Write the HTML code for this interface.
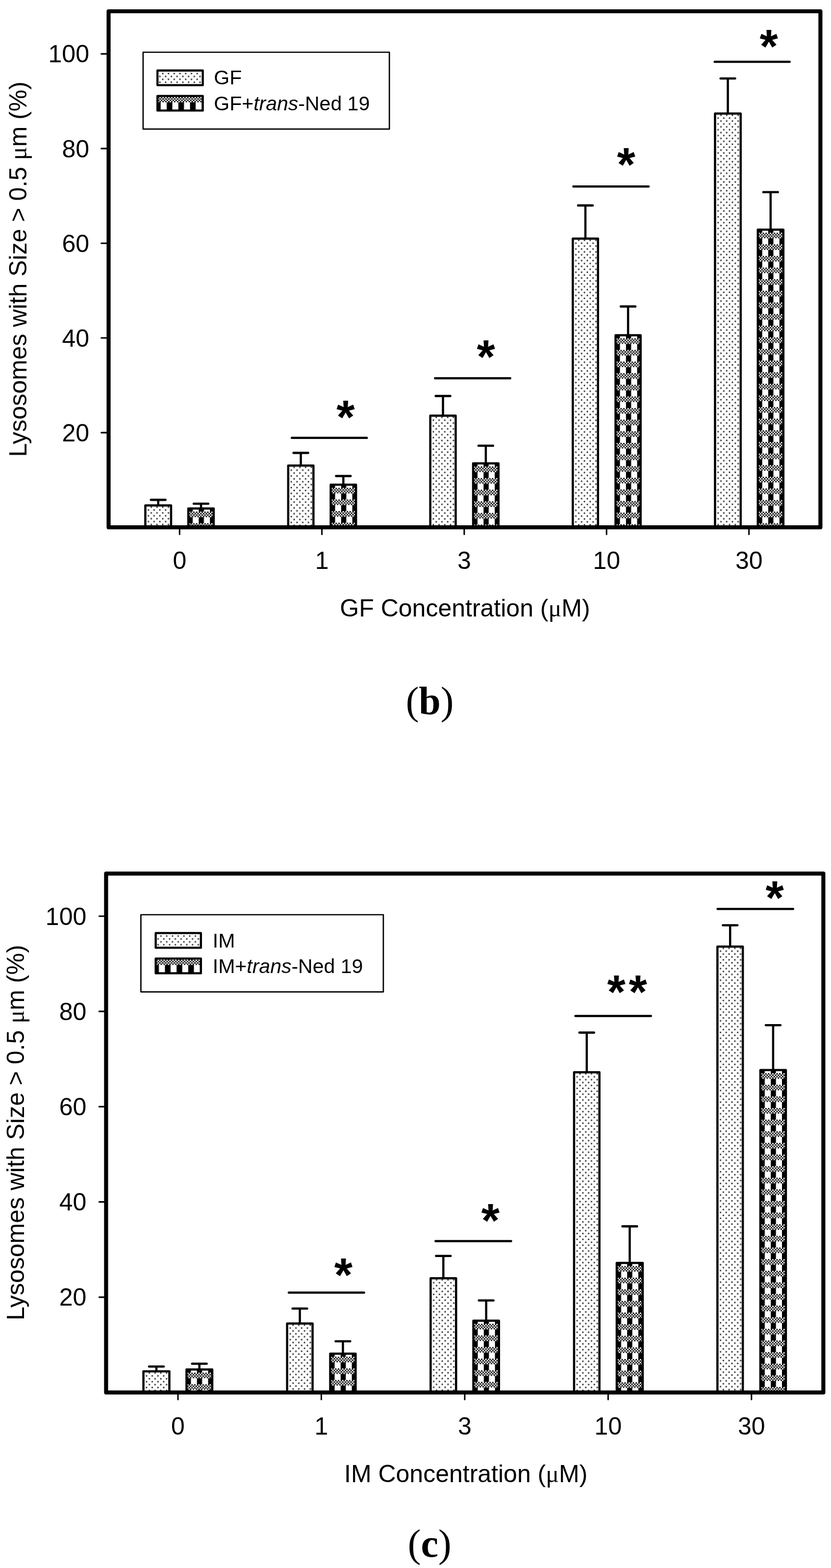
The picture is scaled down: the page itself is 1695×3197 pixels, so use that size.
<!DOCTYPE html>
<html><head><meta charset="utf-8"><title>Lysosome size charts</title>
<style>
html,body{margin:0;padding:0;background:#fff;}
body{width:1695px;height:3197px;overflow:hidden;}
svg{display:block;}
.t{font-family:"Liberation Sans", Arial, sans-serif;font-size:50px;fill:#000;}
.lg{font-family:"Liberation Sans", Arial, sans-serif;font-size:41px;fill:#000;}
.ast{font-family:"Liberation Sans", Arial, sans-serif;font-weight:bold;font-size:96px;fill:#000;}
.mu{font-family:"Liberation Serif", "Times New Roman", serif;}
.pn{font-family:"Liberation Serif", "Times New Roman", serif;font-size:80px;fill:#000;}
</style></head><body>
<svg width="1695" height="3197" viewBox="0 0 1695 3197">
<defs><pattern id="p0" patternUnits="userSpaceOnUse" width="11.7" height="11.84" x="305.62" y="1030.94"><circle cx="2.92" cy="2.96" r="1.65" fill="#2a2a2a"/><circle cx="8.77" cy="8.88" r="1.65" fill="#2a2a2a"/></pattern>
<pattern id="p1" patternUnits="userSpaceOnUse" width="22.8" height="23.7" x="382.6" y="1043"><rect x="0" y="0" width="2.85" height="2.85"/><rect x="5.7" y="0" width="2.85" height="2.85"/><rect x="11.4" y="0" width="2.85" height="2.85"/><rect x="17.1" y="0" width="2.85" height="2.85"/><rect x="2.85" y="2.85" width="2.85" height="2.85"/><rect x="8.55" y="2.85" width="2.85" height="2.85"/><rect x="14.25" y="2.85" width="2.85" height="2.85"/><rect x="19.95" y="2.85" width="2.85" height="2.85"/><rect x="0" y="5.7" width="2.85" height="2.85"/><rect x="5.7" y="5.7" width="2.85" height="2.85"/><rect x="11.4" y="5.7" width="2.85" height="2.85"/><rect x="17.1" y="5.7" width="2.85" height="2.85"/><rect x="2.85" y="8.55" width="2.85" height="2.85"/><rect x="8.55" y="8.55" width="2.85" height="2.85"/><rect x="14.25" y="8.55" width="2.85" height="2.85"/><rect x="19.95" y="8.55" width="2.85" height="2.85"/><rect x="0" y="11.4" width="10.5" height="12.3"/></pattern>
<pattern id="p2" patternUnits="userSpaceOnUse" width="11.7" height="11.84" x="597.03" y="949.74"><circle cx="2.92" cy="2.96" r="1.65" fill="#2a2a2a"/><circle cx="8.77" cy="8.88" r="1.65" fill="#2a2a2a"/></pattern>
<pattern id="p3" patternUnits="userSpaceOnUse" width="22.8" height="23.7" x="673" y="994.6"><rect x="0" y="0" width="2.85" height="2.85"/><rect x="5.7" y="0" width="2.85" height="2.85"/><rect x="11.4" y="0" width="2.85" height="2.85"/><rect x="17.1" y="0" width="2.85" height="2.85"/><rect x="2.85" y="2.85" width="2.85" height="2.85"/><rect x="8.55" y="2.85" width="2.85" height="2.85"/><rect x="14.25" y="2.85" width="2.85" height="2.85"/><rect x="19.95" y="2.85" width="2.85" height="2.85"/><rect x="0" y="5.7" width="2.85" height="2.85"/><rect x="5.7" y="5.7" width="2.85" height="2.85"/><rect x="11.4" y="5.7" width="2.85" height="2.85"/><rect x="17.1" y="5.7" width="2.85" height="2.85"/><rect x="2.85" y="8.55" width="2.85" height="2.85"/><rect x="8.55" y="8.55" width="2.85" height="2.85"/><rect x="14.25" y="8.55" width="2.85" height="2.85"/><rect x="19.95" y="8.55" width="2.85" height="2.85"/><rect x="0" y="11.4" width="10.5" height="12.3"/></pattern>
<pattern id="p4" patternUnits="userSpaceOnUse" width="11.7" height="11.84" x="886.83" y="847.84"><circle cx="2.92" cy="2.96" r="1.65" fill="#2a2a2a"/><circle cx="8.77" cy="8.88" r="1.65" fill="#2a2a2a"/></pattern>
<pattern id="p5" patternUnits="userSpaceOnUse" width="22.8" height="23.7" x="963.5" y="951"><rect x="0" y="0" width="2.85" height="2.85"/><rect x="5.7" y="0" width="2.85" height="2.85"/><rect x="11.4" y="0" width="2.85" height="2.85"/><rect x="17.1" y="0" width="2.85" height="2.85"/><rect x="2.85" y="2.85" width="2.85" height="2.85"/><rect x="8.55" y="2.85" width="2.85" height="2.85"/><rect x="14.25" y="2.85" width="2.85" height="2.85"/><rect x="19.95" y="2.85" width="2.85" height="2.85"/><rect x="0" y="5.7" width="2.85" height="2.85"/><rect x="5.7" y="5.7" width="2.85" height="2.85"/><rect x="11.4" y="5.7" width="2.85" height="2.85"/><rect x="17.1" y="5.7" width="2.85" height="2.85"/><rect x="2.85" y="8.55" width="2.85" height="2.85"/><rect x="8.55" y="8.55" width="2.85" height="2.85"/><rect x="14.25" y="8.55" width="2.85" height="2.85"/><rect x="19.95" y="8.55" width="2.85" height="2.85"/><rect x="0" y="11.4" width="10.5" height="12.3"/></pattern>
<pattern id="p6" patternUnits="userSpaceOnUse" width="11.7" height="11.84" x="1177.52" y="486.94"><circle cx="2.92" cy="2.96" r="1.65" fill="#2a2a2a"/><circle cx="8.77" cy="8.88" r="1.65" fill="#2a2a2a"/></pattern>
<pattern id="p7" patternUnits="userSpaceOnUse" width="22.8" height="23.7" x="1254" y="689.7"><rect x="0" y="0" width="2.85" height="2.85"/><rect x="5.7" y="0" width="2.85" height="2.85"/><rect x="11.4" y="0" width="2.85" height="2.85"/><rect x="17.1" y="0" width="2.85" height="2.85"/><rect x="2.85" y="2.85" width="2.85" height="2.85"/><rect x="8.55" y="2.85" width="2.85" height="2.85"/><rect x="14.25" y="2.85" width="2.85" height="2.85"/><rect x="19.95" y="2.85" width="2.85" height="2.85"/><rect x="0" y="5.7" width="2.85" height="2.85"/><rect x="5.7" y="5.7" width="2.85" height="2.85"/><rect x="11.4" y="5.7" width="2.85" height="2.85"/><rect x="17.1" y="5.7" width="2.85" height="2.85"/><rect x="2.85" y="8.55" width="2.85" height="2.85"/><rect x="8.55" y="8.55" width="2.85" height="2.85"/><rect x="14.25" y="8.55" width="2.85" height="2.85"/><rect x="19.95" y="8.55" width="2.85" height="2.85"/><rect x="0" y="11.4" width="10.5" height="12.3"/></pattern>
<pattern id="p8" patternUnits="userSpaceOnUse" width="11.7" height="11.84" x="1467.62" y="231.94"><circle cx="2.92" cy="2.96" r="1.65" fill="#2a2a2a"/><circle cx="8.77" cy="8.88" r="1.65" fill="#2a2a2a"/></pattern>
<pattern id="p9" patternUnits="userSpaceOnUse" width="22.8" height="23.7" x="1544.2" y="474.4"><rect x="0" y="0" width="2.85" height="2.85"/><rect x="5.7" y="0" width="2.85" height="2.85"/><rect x="11.4" y="0" width="2.85" height="2.85"/><rect x="17.1" y="0" width="2.85" height="2.85"/><rect x="2.85" y="2.85" width="2.85" height="2.85"/><rect x="8.55" y="2.85" width="2.85" height="2.85"/><rect x="14.25" y="2.85" width="2.85" height="2.85"/><rect x="19.95" y="2.85" width="2.85" height="2.85"/><rect x="0" y="5.7" width="2.85" height="2.85"/><rect x="5.7" y="5.7" width="2.85" height="2.85"/><rect x="11.4" y="5.7" width="2.85" height="2.85"/><rect x="17.1" y="5.7" width="2.85" height="2.85"/><rect x="2.85" y="8.55" width="2.85" height="2.85"/><rect x="8.55" y="8.55" width="2.85" height="2.85"/><rect x="14.25" y="8.55" width="2.85" height="2.85"/><rect x="19.95" y="8.55" width="2.85" height="2.85"/><rect x="0" y="11.4" width="10.5" height="12.3"/></pattern>
<pattern id="p10" patternUnits="userSpaceOnUse" width="11.7" height="11.84" x="329.07" y="146.94"><circle cx="2.92" cy="2.96" r="1.65" fill="#2a2a2a"/><circle cx="8.77" cy="8.88" r="1.65" fill="#2a2a2a"/></pattern>
<pattern id="p11" patternUnits="userSpaceOnUse" width="23.8" height="40" x="316.2" y="197.8"><rect x="0" y="0" width="2.98" height="2.67"/><rect x="5.95" y="0" width="2.98" height="2.67"/><rect x="11.9" y="0" width="2.98" height="2.67"/><rect x="17.85" y="0" width="2.98" height="2.67"/><rect x="2.98" y="2.67" width="2.98" height="2.67"/><rect x="8.93" y="2.67" width="2.98" height="2.67"/><rect x="14.88" y="2.67" width="2.98" height="2.67"/><rect x="20.82" y="2.67" width="2.98" height="2.67"/><rect x="0" y="5.35" width="2.98" height="2.67"/><rect x="5.95" y="5.35" width="2.98" height="2.67"/><rect x="11.9" y="5.35" width="2.98" height="2.67"/><rect x="17.85" y="5.35" width="2.98" height="2.67"/><rect x="2.98" y="8.02" width="2.98" height="2.67"/><rect x="8.93" y="8.02" width="2.98" height="2.67"/><rect x="14.88" y="8.02" width="2.98" height="2.67"/><rect x="20.82" y="8.02" width="2.98" height="2.67"/><rect x="0" y="10.7" width="11.5" height="29.3"/></pattern>
<pattern id="p12" patternUnits="userSpaceOnUse" width="11.7" height="11.84" x="301.73" y="2796.44"><circle cx="2.92" cy="2.96" r="1.65" fill="#2a2a2a"/><circle cx="8.77" cy="8.88" r="1.65" fill="#2a2a2a"/></pattern>
<pattern id="p13" patternUnits="userSpaceOnUse" width="22.8" height="23.7" x="378.9" y="2798.6"><rect x="0" y="0" width="2.85" height="2.85"/><rect x="5.7" y="0" width="2.85" height="2.85"/><rect x="11.4" y="0" width="2.85" height="2.85"/><rect x="17.1" y="0" width="2.85" height="2.85"/><rect x="2.85" y="2.85" width="2.85" height="2.85"/><rect x="8.55" y="2.85" width="2.85" height="2.85"/><rect x="14.25" y="2.85" width="2.85" height="2.85"/><rect x="19.95" y="2.85" width="2.85" height="2.85"/><rect x="0" y="5.7" width="2.85" height="2.85"/><rect x="5.7" y="5.7" width="2.85" height="2.85"/><rect x="11.4" y="5.7" width="2.85" height="2.85"/><rect x="17.1" y="5.7" width="2.85" height="2.85"/><rect x="2.85" y="8.55" width="2.85" height="2.85"/><rect x="8.55" y="8.55" width="2.85" height="2.85"/><rect x="14.25" y="8.55" width="2.85" height="2.85"/><rect x="19.95" y="8.55" width="2.85" height="2.85"/><rect x="0" y="11.4" width="10.5" height="12.3"/></pattern>
<pattern id="p14" patternUnits="userSpaceOnUse" width="11.7" height="11.84" x="594.83" y="2698.84"><circle cx="2.92" cy="2.96" r="1.65" fill="#2a2a2a"/><circle cx="8.77" cy="8.88" r="1.65" fill="#2a2a2a"/></pattern>
<pattern id="p15" patternUnits="userSpaceOnUse" width="22.8" height="23.7" x="672" y="2766.2"><rect x="0" y="0" width="2.85" height="2.85"/><rect x="5.7" y="0" width="2.85" height="2.85"/><rect x="11.4" y="0" width="2.85" height="2.85"/><rect x="17.1" y="0" width="2.85" height="2.85"/><rect x="2.85" y="2.85" width="2.85" height="2.85"/><rect x="8.55" y="2.85" width="2.85" height="2.85"/><rect x="14.25" y="2.85" width="2.85" height="2.85"/><rect x="19.95" y="2.85" width="2.85" height="2.85"/><rect x="0" y="5.7" width="2.85" height="2.85"/><rect x="5.7" y="5.7" width="2.85" height="2.85"/><rect x="11.4" y="5.7" width="2.85" height="2.85"/><rect x="17.1" y="5.7" width="2.85" height="2.85"/><rect x="2.85" y="8.55" width="2.85" height="2.85"/><rect x="8.55" y="8.55" width="2.85" height="2.85"/><rect x="14.25" y="8.55" width="2.85" height="2.85"/><rect x="19.95" y="8.55" width="2.85" height="2.85"/><rect x="0" y="11.4" width="10.5" height="12.3"/></pattern>
<pattern id="p16" patternUnits="userSpaceOnUse" width="11.7" height="11.84" x="887.53" y="2606.54"><circle cx="2.92" cy="2.96" r="1.65" fill="#2a2a2a"/><circle cx="8.77" cy="8.88" r="1.65" fill="#2a2a2a"/></pattern>
<pattern id="p17" patternUnits="userSpaceOnUse" width="22.8" height="23.7" x="964" y="2699"><rect x="0" y="0" width="2.85" height="2.85"/><rect x="5.7" y="0" width="2.85" height="2.85"/><rect x="11.4" y="0" width="2.85" height="2.85"/><rect x="17.1" y="0" width="2.85" height="2.85"/><rect x="2.85" y="2.85" width="2.85" height="2.85"/><rect x="8.55" y="2.85" width="2.85" height="2.85"/><rect x="14.25" y="2.85" width="2.85" height="2.85"/><rect x="19.95" y="2.85" width="2.85" height="2.85"/><rect x="0" y="5.7" width="2.85" height="2.85"/><rect x="5.7" y="5.7" width="2.85" height="2.85"/><rect x="11.4" y="5.7" width="2.85" height="2.85"/><rect x="17.1" y="5.7" width="2.85" height="2.85"/><rect x="2.85" y="8.55" width="2.85" height="2.85"/><rect x="8.55" y="8.55" width="2.85" height="2.85"/><rect x="14.25" y="8.55" width="2.85" height="2.85"/><rect x="19.95" y="8.55" width="2.85" height="2.85"/><rect x="0" y="11.4" width="10.5" height="12.3"/></pattern>
<pattern id="p18" patternUnits="userSpaceOnUse" width="11.7" height="11.84" x="1180.12" y="2186.54"><circle cx="2.92" cy="2.96" r="1.65" fill="#2a2a2a"/><circle cx="8.77" cy="8.88" r="1.65" fill="#2a2a2a"/></pattern>
<pattern id="p19" patternUnits="userSpaceOnUse" width="22.8" height="23.7" x="1256.4" y="2581.3"><rect x="0" y="0" width="2.85" height="2.85"/><rect x="5.7" y="0" width="2.85" height="2.85"/><rect x="11.4" y="0" width="2.85" height="2.85"/><rect x="17.1" y="0" width="2.85" height="2.85"/><rect x="2.85" y="2.85" width="2.85" height="2.85"/><rect x="8.55" y="2.85" width="2.85" height="2.85"/><rect x="14.25" y="2.85" width="2.85" height="2.85"/><rect x="19.95" y="2.85" width="2.85" height="2.85"/><rect x="0" y="5.7" width="2.85" height="2.85"/><rect x="5.7" y="5.7" width="2.85" height="2.85"/><rect x="11.4" y="5.7" width="2.85" height="2.85"/><rect x="17.1" y="5.7" width="2.85" height="2.85"/><rect x="2.85" y="8.55" width="2.85" height="2.85"/><rect x="8.55" y="8.55" width="2.85" height="2.85"/><rect x="14.25" y="8.55" width="2.85" height="2.85"/><rect x="19.95" y="8.55" width="2.85" height="2.85"/><rect x="0" y="11.4" width="10.5" height="12.3"/></pattern>
<pattern id="p20" patternUnits="userSpaceOnUse" width="11.7" height="11.84" x="1472.52" y="1930.44"><circle cx="2.92" cy="2.96" r="1.65" fill="#2a2a2a"/><circle cx="8.77" cy="8.88" r="1.65" fill="#2a2a2a"/></pattern>
<pattern id="p21" patternUnits="userSpaceOnUse" width="22.8" height="23.7" x="1549.4" y="2188"><rect x="0" y="0" width="2.85" height="2.85"/><rect x="5.7" y="0" width="2.85" height="2.85"/><rect x="11.4" y="0" width="2.85" height="2.85"/><rect x="17.1" y="0" width="2.85" height="2.85"/><rect x="2.85" y="2.85" width="2.85" height="2.85"/><rect x="8.55" y="2.85" width="2.85" height="2.85"/><rect x="14.25" y="2.85" width="2.85" height="2.85"/><rect x="19.95" y="2.85" width="2.85" height="2.85"/><rect x="0" y="5.7" width="2.85" height="2.85"/><rect x="5.7" y="5.7" width="2.85" height="2.85"/><rect x="11.4" y="5.7" width="2.85" height="2.85"/><rect x="17.1" y="5.7" width="2.85" height="2.85"/><rect x="2.85" y="8.55" width="2.85" height="2.85"/><rect x="8.55" y="8.55" width="2.85" height="2.85"/><rect x="14.25" y="8.55" width="2.85" height="2.85"/><rect x="19.95" y="8.55" width="2.85" height="2.85"/><rect x="0" y="11.4" width="10.5" height="12.3"/></pattern>
<pattern id="p22" patternUnits="userSpaceOnUse" width="11.7" height="11.84" x="325.47" y="1905.54"><circle cx="2.92" cy="2.96" r="1.65" fill="#2a2a2a"/><circle cx="8.77" cy="8.88" r="1.65" fill="#2a2a2a"/></pattern>
<pattern id="p23" patternUnits="userSpaceOnUse" width="23.8" height="40" x="312.6" y="1956.6"><rect x="0" y="0" width="2.98" height="2.67"/><rect x="5.95" y="0" width="2.98" height="2.67"/><rect x="11.9" y="0" width="2.98" height="2.67"/><rect x="17.85" y="0" width="2.98" height="2.67"/><rect x="2.98" y="2.67" width="2.98" height="2.67"/><rect x="8.93" y="2.67" width="2.98" height="2.67"/><rect x="14.88" y="2.67" width="2.98" height="2.67"/><rect x="20.82" y="2.67" width="2.98" height="2.67"/><rect x="0" y="5.35" width="2.98" height="2.67"/><rect x="5.95" y="5.35" width="2.98" height="2.67"/><rect x="11.9" y="5.35" width="2.98" height="2.67"/><rect x="17.85" y="5.35" width="2.98" height="2.67"/><rect x="2.98" y="8.02" width="2.98" height="2.67"/><rect x="8.93" y="8.02" width="2.98" height="2.67"/><rect x="14.88" y="8.02" width="2.98" height="2.67"/><rect x="20.82" y="8.02" width="2.98" height="2.67"/><rect x="0" y="10.7" width="11.5" height="29.3"/></pattern></defs>
<rect width="1695" height="3197" fill="#fff"/>
<line x1="322.7" y1="1030.55" x2="322.7" y2="1019.1" stroke="#000" stroke-width="4.5"/>
<line x1="307.8" y1="1019.1" x2="337.6" y2="1019.1" stroke="#000" stroke-width="4.6" stroke-linecap="round"/>
<rect x="296.45" y="1030.55" width="52.5" height="44.65" fill="url(#p0)" stroke="#000" stroke-width="4.5" stroke-linejoin="round"/>
<line x1="410" y1="1036.75" x2="410" y2="1027" stroke="#000" stroke-width="4.5"/>
<line x1="395.1" y1="1027" x2="424.9" y2="1027" stroke="#000" stroke-width="4.6" stroke-linecap="round"/>
<rect x="384.15" y="1036.75" width="51.7" height="38.45" fill="url(#p1)" stroke="#000" stroke-width="4.5" stroke-linejoin="round"/>
<line x1="613.6" y1="949.35" x2="613.6" y2="923.4" stroke="#000" stroke-width="4.5"/>
<line x1="598.7" y1="923.4" x2="628.5" y2="923.4" stroke="#000" stroke-width="4.6" stroke-linecap="round"/>
<rect x="587.85" y="949.35" width="51.5" height="125.85" fill="url(#p2)" stroke="#000" stroke-width="4.5" stroke-linejoin="round"/>
<line x1="700.35" y1="988.35" x2="700.35" y2="970.6" stroke="#000" stroke-width="4.5"/>
<line x1="685.45" y1="970.6" x2="715.25" y2="970.6" stroke="#000" stroke-width="4.6" stroke-linecap="round"/>
<rect x="674.55" y="988.35" width="51.6" height="86.85" fill="url(#p3)" stroke="#000" stroke-width="4.5" stroke-linejoin="round"/>
<line x1="903.55" y1="847.45" x2="903.55" y2="807.4" stroke="#000" stroke-width="4.5"/>
<line x1="888.65" y1="807.4" x2="918.45" y2="807.4" stroke="#000" stroke-width="4.6" stroke-linecap="round"/>
<rect x="877.65" y="847.45" width="51.8" height="227.75" fill="url(#p4)" stroke="#000" stroke-width="4.5" stroke-linejoin="round"/>
<line x1="990.9" y1="944.75" x2="990.9" y2="908.8" stroke="#000" stroke-width="4.5"/>
<line x1="976" y1="908.8" x2="1005.8" y2="908.8" stroke="#000" stroke-width="4.6" stroke-linecap="round"/>
<rect x="965.05" y="944.75" width="51.7" height="130.45" fill="url(#p5)" stroke="#000" stroke-width="4.5" stroke-linejoin="round"/>
<line x1="1194.05" y1="486.55" x2="1194.05" y2="418.9" stroke="#000" stroke-width="4.5"/>
<line x1="1179.15" y1="418.9" x2="1208.95" y2="418.9" stroke="#000" stroke-width="4.6" stroke-linecap="round"/>
<rect x="1168.35" y="486.55" width="51.4" height="588.65" fill="url(#p6)" stroke="#000" stroke-width="4.5" stroke-linejoin="round"/>
<line x1="1281.1" y1="683.45" x2="1281.1" y2="624.9" stroke="#000" stroke-width="4.5"/>
<line x1="1266.2" y1="624.9" x2="1296" y2="624.9" stroke="#000" stroke-width="4.6" stroke-linecap="round"/>
<rect x="1255.55" y="683.45" width="51.1" height="391.75" fill="url(#p7)" stroke="#000" stroke-width="4.5" stroke-linejoin="round"/>
<line x1="1484.6" y1="231.55" x2="1484.6" y2="160" stroke="#000" stroke-width="4.5"/>
<line x1="1469.7" y1="160" x2="1499.5" y2="160" stroke="#000" stroke-width="4.6" stroke-linecap="round"/>
<rect x="1458.45" y="231.55" width="52.3" height="843.65" fill="url(#p8)" stroke="#000" stroke-width="4.5" stroke-linejoin="round"/>
<line x1="1571.8" y1="468.15" x2="1571.8" y2="391.8" stroke="#000" stroke-width="4.5"/>
<line x1="1556.9" y1="391.8" x2="1586.7" y2="391.8" stroke="#000" stroke-width="4.6" stroke-linecap="round"/>
<rect x="1545.75" y="468.15" width="52.1" height="607.05" fill="url(#p9)" stroke="#000" stroke-width="4.5" stroke-linejoin="round"/>
<rect x="221.5" y="23" width="1451.9" height="1052.2" fill="none" stroke="#000" stroke-width="8.2" stroke-linejoin="round"/>
<line x1="206.7" y1="109.8" x2="221.5" y2="109.8" stroke="#000" stroke-width="3.2" stroke-linecap="round"/>
<text x="182" y="127.4" text-anchor="end" class="t">100</text>
<line x1="206.7" y1="302.9" x2="221.5" y2="302.9" stroke="#000" stroke-width="3.2" stroke-linecap="round"/>
<text x="182" y="320.5" text-anchor="end" class="t">80</text>
<line x1="206.7" y1="496" x2="221.5" y2="496" stroke="#000" stroke-width="3.2" stroke-linecap="round"/>
<text x="182" y="513.6" text-anchor="end" class="t">60</text>
<line x1="206.7" y1="689" x2="221.5" y2="689" stroke="#000" stroke-width="3.2" stroke-linecap="round"/>
<text x="182" y="706.6" text-anchor="end" class="t">40</text>
<line x1="206.7" y1="882.1" x2="221.5" y2="882.1" stroke="#000" stroke-width="3.2" stroke-linecap="round"/>
<text x="182" y="899.7" text-anchor="end" class="t">20</text>
<line x1="366.3" y1="1075.2" x2="366.3" y2="1089.6" stroke="#000" stroke-width="3" stroke-linecap="round"/>
<text x="366.3" y="1160.3" text-anchor="middle" class="t">0</text>
<line x1="656.6" y1="1075.2" x2="656.6" y2="1089.6" stroke="#000" stroke-width="3" stroke-linecap="round"/>
<text x="656.6" y="1160.3" text-anchor="middle" class="t">1</text>
<line x1="946.9" y1="1075.2" x2="946.9" y2="1089.6" stroke="#000" stroke-width="3" stroke-linecap="round"/>
<text x="946.9" y="1160.3" text-anchor="middle" class="t">3</text>
<line x1="1237.2" y1="1075.2" x2="1237.2" y2="1089.6" stroke="#000" stroke-width="3" stroke-linecap="round"/>
<text x="1237.2" y="1160.3" text-anchor="middle" class="t">10</text>
<line x1="1527.7" y1="1075.2" x2="1527.7" y2="1089.6" stroke="#000" stroke-width="3" stroke-linecap="round"/>
<text x="1527.7" y="1160.3" text-anchor="middle" class="t">30</text>
<line x1="595.25" y1="892.7" x2="748.25" y2="892.7" stroke="#000" stroke-width="4.5" stroke-linecap="round"/>
<line x1="887.45" y1="771.3" x2="1040.75" y2="771.3" stroke="#000" stroke-width="4.5" stroke-linecap="round"/>
<line x1="1169.55" y1="380.2" x2="1322.95" y2="380.2" stroke="#000" stroke-width="4.5" stroke-linecap="round"/>
<line x1="1457.65" y1="126.1" x2="1610.65" y2="126.1" stroke="#000" stroke-width="4.5" stroke-linecap="round"/>
<text x="705.05" y="883.3" text-anchor="middle" class="ast">*</text>
<text x="991.15" y="759.5" text-anchor="middle" class="ast">*</text>
<text x="1277.1" y="368.3" text-anchor="middle" class="ast">*</text>
<text x="1568.2" y="127.3" text-anchor="middle" class="ast">*</text>
<rect x="291.9" y="106.5" width="502.3" height="156.7" fill="none" stroke="#000" stroke-width="2.7" stroke-linejoin="round"/>
<rect x="321.2" y="143.8" width="92.4" height="29.8" fill="url(#p10)" stroke="#000" stroke-width="4.4" stroke-linejoin="round"/>
<rect x="321.2" y="195.6" width="92.4" height="29.8" fill="url(#p11)" stroke="#000" stroke-width="4.4" stroke-linejoin="round"/>
<text x="436.3" y="172.3" class="lg">GF</text>
<text x="436.3" y="225" class="lg">GF+<tspan font-style="italic">trans</tspan>-Ned 19</text>
<text transform="translate(54.4,548.8) rotate(-90)" text-anchor="middle" class="t">Lysosomes with Size &gt; 0.5 <tspan class="mu">μ</tspan>m (%)</text>
<text x="948.5" y="1257.2" text-anchor="middle" class="t">GF Concentration (<tspan class="mu">μ</tspan>M)</text>
<text x="876.6" y="1456.1" text-anchor="middle" class="pn">(<tspan font-weight="bold">b</tspan>)</text>
<line x1="319" y1="2796.05" x2="319" y2="2786.2" stroke="#000" stroke-width="4.5"/>
<line x1="304.1" y1="2786.2" x2="333.9" y2="2786.2" stroke="#000" stroke-width="4.6" stroke-linecap="round"/>
<rect x="292.55" y="2796.05" width="52.9" height="43.15" fill="url(#p12)" stroke="#000" stroke-width="4.5" stroke-linejoin="round"/>
<line x1="406.7" y1="2792.35" x2="406.7" y2="2780.5" stroke="#000" stroke-width="4.5"/>
<line x1="391.8" y1="2780.5" x2="421.6" y2="2780.5" stroke="#000" stroke-width="4.6" stroke-linecap="round"/>
<rect x="380.45" y="2792.35" width="52.5" height="46.85" fill="url(#p13)" stroke="#000" stroke-width="4.5" stroke-linejoin="round"/>
<line x1="611.6" y1="2698.45" x2="611.6" y2="2668" stroke="#000" stroke-width="4.5"/>
<line x1="596.7" y1="2668" x2="626.5" y2="2668" stroke="#000" stroke-width="4.6" stroke-linecap="round"/>
<rect x="585.65" y="2698.45" width="51.9" height="140.75" fill="url(#p14)" stroke="#000" stroke-width="4.5" stroke-linejoin="round"/>
<line x1="699.45" y1="2759.95" x2="699.45" y2="2734.7" stroke="#000" stroke-width="4.5"/>
<line x1="684.55" y1="2734.7" x2="714.35" y2="2734.7" stroke="#000" stroke-width="4.6" stroke-linecap="round"/>
<rect x="673.55" y="2759.95" width="51.8" height="79.25" fill="url(#p15)" stroke="#000" stroke-width="4.5" stroke-linejoin="round"/>
<line x1="904.3" y1="2606.15" x2="904.3" y2="2560.7" stroke="#000" stroke-width="4.5"/>
<line x1="889.4" y1="2560.7" x2="919.2" y2="2560.7" stroke="#000" stroke-width="4.6" stroke-linecap="round"/>
<rect x="878.35" y="2606.15" width="51.9" height="233.05" fill="url(#p16)" stroke="#000" stroke-width="4.5" stroke-linejoin="round"/>
<line x1="991.65" y1="2692.75" x2="991.65" y2="2651.5" stroke="#000" stroke-width="4.5"/>
<line x1="976.75" y1="2651.5" x2="1006.55" y2="2651.5" stroke="#000" stroke-width="4.6" stroke-linecap="round"/>
<rect x="965.55" y="2692.75" width="52.2" height="146.45" fill="url(#p17)" stroke="#000" stroke-width="4.5" stroke-linejoin="round"/>
<line x1="1196.8" y1="2186.15" x2="1196.8" y2="2105.4" stroke="#000" stroke-width="4.5"/>
<line x1="1181.9" y1="2105.4" x2="1211.7" y2="2105.4" stroke="#000" stroke-width="4.6" stroke-linecap="round"/>
<rect x="1170.95" y="2186.15" width="51.7" height="653.05" fill="url(#p18)" stroke="#000" stroke-width="4.5" stroke-linejoin="round"/>
<line x1="1284.45" y1="2575.05" x2="1284.45" y2="2500.4" stroke="#000" stroke-width="4.5"/>
<line x1="1269.55" y1="2500.4" x2="1299.35" y2="2500.4" stroke="#000" stroke-width="4.6" stroke-linecap="round"/>
<rect x="1257.95" y="2575.05" width="53" height="264.15" fill="url(#p19)" stroke="#000" stroke-width="4.5" stroke-linejoin="round"/>
<line x1="1489.25" y1="1930.05" x2="1489.25" y2="1886.5" stroke="#000" stroke-width="4.5"/>
<line x1="1474.35" y1="1886.5" x2="1504.15" y2="1886.5" stroke="#000" stroke-width="4.6" stroke-linecap="round"/>
<rect x="1463.35" y="1930.05" width="51.8" height="909.15" fill="url(#p20)" stroke="#000" stroke-width="4.5" stroke-linejoin="round"/>
<line x1="1576.95" y1="2181.75" x2="1576.95" y2="2090.3" stroke="#000" stroke-width="4.5"/>
<line x1="1562.05" y1="2090.3" x2="1591.85" y2="2090.3" stroke="#000" stroke-width="4.6" stroke-linecap="round"/>
<rect x="1550.95" y="2181.75" width="52" height="657.45" fill="url(#p21)" stroke="#000" stroke-width="4.5" stroke-linejoin="round"/>
<rect x="216.4" y="1781.1" width="1463" height="1058.1" fill="none" stroke="#000" stroke-width="8.2" stroke-linejoin="round"/>
<line x1="202.4" y1="1868" x2="216.4" y2="1868" stroke="#000" stroke-width="3.2" stroke-linecap="round"/>
<text x="176.3" y="1885.6" text-anchor="end" class="t">100</text>
<line x1="202.4" y1="2062.2" x2="216.4" y2="2062.2" stroke="#000" stroke-width="3.2" stroke-linecap="round"/>
<text x="176.3" y="2079.8" text-anchor="end" class="t">80</text>
<line x1="202.4" y1="2256.4" x2="216.4" y2="2256.4" stroke="#000" stroke-width="3.2" stroke-linecap="round"/>
<text x="176.3" y="2274" text-anchor="end" class="t">60</text>
<line x1="202.4" y1="2450.6" x2="216.4" y2="2450.6" stroke="#000" stroke-width="3.2" stroke-linecap="round"/>
<text x="176.3" y="2468.2" text-anchor="end" class="t">40</text>
<line x1="202.4" y1="2644.8" x2="216.4" y2="2644.8" stroke="#000" stroke-width="3.2" stroke-linecap="round"/>
<text x="176.3" y="2662.4" text-anchor="end" class="t">20</text>
<line x1="363" y1="2839.2" x2="363" y2="2853.6" stroke="#000" stroke-width="3" stroke-linecap="round"/>
<text x="363" y="2924.8" text-anchor="middle" class="t">0</text>
<line x1="655.4" y1="2839.2" x2="655.4" y2="2853.6" stroke="#000" stroke-width="3" stroke-linecap="round"/>
<text x="655.4" y="2924.8" text-anchor="middle" class="t">1</text>
<line x1="947.9" y1="2839.2" x2="947.9" y2="2853.6" stroke="#000" stroke-width="3" stroke-linecap="round"/>
<text x="947.9" y="2924.8" text-anchor="middle" class="t">3</text>
<line x1="1240.4" y1="2839.2" x2="1240.4" y2="2853.6" stroke="#000" stroke-width="3" stroke-linecap="round"/>
<text x="1240.4" y="2924.8" text-anchor="middle" class="t">10</text>
<line x1="1532.8" y1="2839.2" x2="1532.8" y2="2853.6" stroke="#000" stroke-width="3" stroke-linecap="round"/>
<text x="1532.8" y="2924.8" text-anchor="middle" class="t">30</text>
<line x1="589.05" y1="2635.4" x2="742.65" y2="2635.4" stroke="#000" stroke-width="4.5" stroke-linecap="round"/>
<line x1="888.35" y1="2530.4" x2="1042.55" y2="2530.4" stroke="#000" stroke-width="4.5" stroke-linecap="round"/>
<line x1="1173.65" y1="2071.6" x2="1327.75" y2="2071.6" stroke="#000" stroke-width="4.5" stroke-linecap="round"/>
<line x1="1463.65" y1="1853.3" x2="1617.75" y2="1853.3" stroke="#000" stroke-width="4.5" stroke-linecap="round"/>
<text x="700.35" y="2631.6" text-anchor="middle" class="ast">*</text>
<text x="1000.35" y="2520.7" text-anchor="middle" class="ast">*</text>
<text x="1257.3" y="2054.5" text-anchor="middle" class="ast">*<tspan x="1301.2">*</tspan></text>
<text x="1580.25" y="1862.8" text-anchor="middle" class="ast">*</text>
<rect x="287.4" y="1865" width="494.5" height="157.3" fill="none" stroke="#000" stroke-width="2.7" stroke-linejoin="round"/>
<rect x="317.6" y="1902.4" width="92.2" height="30" fill="url(#p22)" stroke="#000" stroke-width="4.4" stroke-linejoin="round"/>
<rect x="317.6" y="1954.4" width="92.2" height="30" fill="url(#p23)" stroke="#000" stroke-width="4.4" stroke-linejoin="round"/>
<text x="433.8" y="1932" class="lg">IM</text>
<text x="433.8" y="1984" class="lg">IM+<tspan font-style="italic">trans</tspan>-Ned 19</text>
<text transform="translate(48.5,2309.2) rotate(-90)" text-anchor="middle" class="t">Lysosomes with Size &gt; 0.5 <tspan class="mu">μ</tspan>m (%)</text>
<text x="950.2" y="3022" text-anchor="middle" class="t">IM Concentration (<tspan class="mu">μ</tspan>M)</text>
<text x="876.2" y="3174" text-anchor="middle" class="pn">(<tspan font-weight="bold">c</tspan>)</text>
</svg>
</body></html>
